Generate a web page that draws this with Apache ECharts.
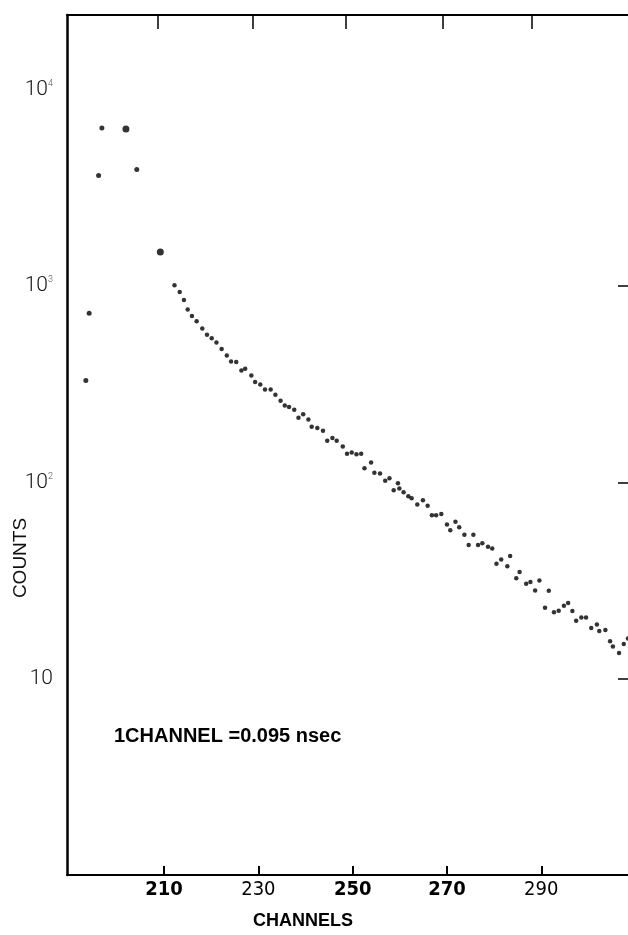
<!DOCTYPE html>
<html>
<head>
<meta charset="utf-8">
<script src="https://cdn.jsdelivr.net/npm/echarts@6/dist/echarts.min.js"></script>
<style>html,body{margin:0;padding:0;background:#fff}#c{width:628px;height:935px}</style>
</head>
<body>
<div id="c"></div>
<script>
// ---- data ----
const earlyChannels = [193.4, 194.1, 196.1, 196.8, 201.9, 204.2, 209.2];
const earlyCounts   = [330, 726, 3650, 6380, 6300, 3920, 1490];

const channels = [212.2, 213.3, 214.2, 215.0, 215.9, 216.9, 218.1, 219.1, 220.1, 221.1,
  222.2, 223.3, 224.2, 225.3, 226.4, 227.2, 228.5, 229.3, 230.4, 231.4,
  232.6, 233.6, 234.7, 235.6, 236.5, 237.6, 238.5, 239.5, 240.6, 241.3,
  242.5, 243.7, 244.6, 245.7, 246.6, 247.9, 248.8, 249.8, 250.8, 251.8,
  252.5, 253.9, 254.6, 255.8, 256.9, 257.8, 258.7, 259.6, 259.9, 260.8,
  261.8, 262.5, 263.7, 264.9, 265.9, 266.8, 267.7, 268.8, 270.0, 270.7,
  271.8, 272.6, 273.7, 274.6, 275.6, 276.6, 277.5, 278.7, 279.6, 280.5,
  281.5, 282.8, 283.4, 284.7, 285.4, 286.8, 287.7, 288.7, 289.6, 290.8,
  291.6, 292.7, 293.7, 294.8, 295.7, 296.6, 297.4, 298.5, 299.5, 300.6,
  301.8, 302.3, 303.6, 304.6, 305.2, 306.5, 307.5, 308.4];
const counts = [1008, 931, 849, 760, 703, 661, 608, 565, 541, 516,
  478, 443, 413, 410, 371, 379, 350, 324, 315, 297,
  297, 279, 260, 246, 242, 234, 213, 222, 209, 192,
  189, 183, 163, 168, 163, 152, 140, 142, 139, 140,
  118, 126, 112, 111, 102, 105, 91, 99, 93, 89,
  85, 83, 77, 81, 76, 68, 68, 69, 61, 57,
  63, 59, 54, 48, 54, 48, 49, 47, 46, 38.5,
  40.5, 37.4, 42.1, 32.5, 34.9, 30.4, 31.1, 28.1, 31.6, 23.0,
  28.0, 21.8, 22.2, 23.5, 24.3, 22.1, 19.7, 20.5, 20.5, 18.1,
  18.9, 17.5, 17.7, 15.5, 14.6, 13.5, 15.0, 16.0];

const xTickValues   = [210, 230, 250, 270, 290];
const topTickValues = [208.7, 228.9, 248.5, 269.0, 288.0];
const rightTickDecades = [1, 2, 3];   // 10, 100, 1000
const xMin = 189.4, xMax = 308.4;
const yMin = 1, yMax = 24000;

const xTitle = 'CHANNELS';
const yTitle = 'COUNTS';
const note = '1CHANNEL =0.095 nsec';

// ---- chart ----
const chart = echarts.init(document.getElementById('c'), null, {renderer: 'canvas'});
const narrow = '"Liberation Sans Narrow", "DejaVu Sans Condensed", "Liberation Sans", Arial, sans-serif';

const option = {
  animation: false,
  backgroundColor: '#ffffff',
  grid: {left: 67, right: 0, top: 15, bottom: 60, containLabel: false},
  xAxis: [
    {
      type: 'value', min: xMin, max: xMax, position: 'bottom',
      axisLine: {show: true, onZero: false, lineStyle: {color: '#000', width: 2}},
      axisTick: {show: true, inside: true, length: 9, customValues: xTickValues,
                 lineStyle: {color: '#000', width: 2}},
      axisLabel: {
        customValues: xTickValues, margin: 5, color: '#000',
        formatter: v => (v === 230 || v === 290) ? '{n|' + v + '}' : '{b|' + v + '}',
        rich: {
          b: {fontFamily: narrow, fontWeight: 'bold', fontSize: 20, color: '#000'},
          n: {fontFamily: narrow, fontWeight: 'normal', fontSize: 20, color: '#000'}
        }
      },
      splitLine: {show: false}
    },
    {
      type: 'value', min: xMin, max: xMax, position: 'top',
      axisLine: {show: true, onZero: false, lineStyle: {color: '#000', width: 2}},
      axisTick: {show: true, inside: true, length: 14, customValues: topTickValues,
                 lineStyle: {color: '#000', width: 1.5}},
      axisLabel: {show: false},
      splitLine: {show: false}
    }
  ],
  yAxis: [
    {
      type: 'log', logBase: 10, min: yMin, max: yMax, position: 'left',
      axisLine: {show: true, lineStyle: {color: '#000', width: 2.5}},
      axisTick: {show: false},
      minorTick: {show: false},
      axisLabel: {
        margin: 14, color: '#111', showMaxLabel: false,
        formatter: v => {
          const l = Math.log10(v);
          const e = Math.round(l);
          if (Math.abs(l - e) > 0.01 || e < 1) return '';
          if (e === 1) return '{m|10}';
          return '{m|10}{s|' + e + '}';
        },
        rich: {
          m: {fontFamily: 'Roboto, "Liberation Sans", sans-serif', fontWeight: 300, fontSize: 21, color: '#111'},
          s: {fontFamily: 'Roboto, "Liberation Sans", sans-serif', fontWeight: 300, fontSize: 9, color: '#555',
              verticalAlign: 'top', padding: [0, 0, 12, 0]}
        }
      },
      splitLine: {show: false}
    },
    {
      // right-hand decade ticks (log10 of counts)
      type: 'value', min: Math.log10(yMin), max: Math.log10(yMax), position: 'right',
      axisLine: {show: false},
      axisTick: {show: true, inside: true, length: 10, customValues: rightTickDecades,
                 lineStyle: {color: '#000', width: 1.5}},
      axisLabel: {show: false},
      splitLine: {show: false}
    }
  ],
  series: [
    {
      type: 'scatter', xAxisIndex: 0, yAxisIndex: 0,
      data: earlyChannels.map((c, i) => [c, earlyCounts[i]]),
      symbol: 'circle',
      symbolSize: (val, p) => (p.dataIndex === 4 || p.dataIndex === 6) ? 7 : 5,
      itemStyle: {color: '#000'}
    },
    {
      type: 'scatter', xAxisIndex: 0, yAxisIndex: 0,
      data: channels.map((c, i) => [c, counts[i]]),
      symbol: 'circle', symbolSize: 4.5,
      itemStyle: {color: '#000'}
    }
  ],
  graphic: [
    {
      type: 'text', x: 21, y: 558, rotation: Math.PI / 2,
      style: {text: yTitle, fill: '#111', font: '19px "Liberation Sans", Arial, sans-serif',
              textAlign: 'center', textVerticalAlign: 'middle'}
    },
    {
      type: 'text', x: 303, y: 921,
      style: {text: xTitle, fill: '#000', font: 'bold 18px "Liberation Sans", Arial, sans-serif',
              textAlign: 'center', textVerticalAlign: 'middle'}
    },
    {
      type: 'text', x: 114, y: 736,
      style: {text: note, fill: '#000', font: 'bold 20px "Liberation Sans", Arial, sans-serif',
              textAlign: 'left', textVerticalAlign: 'middle'}
    }
  ]
};
chart.setOption(option);
</script>
</body>
</html>
